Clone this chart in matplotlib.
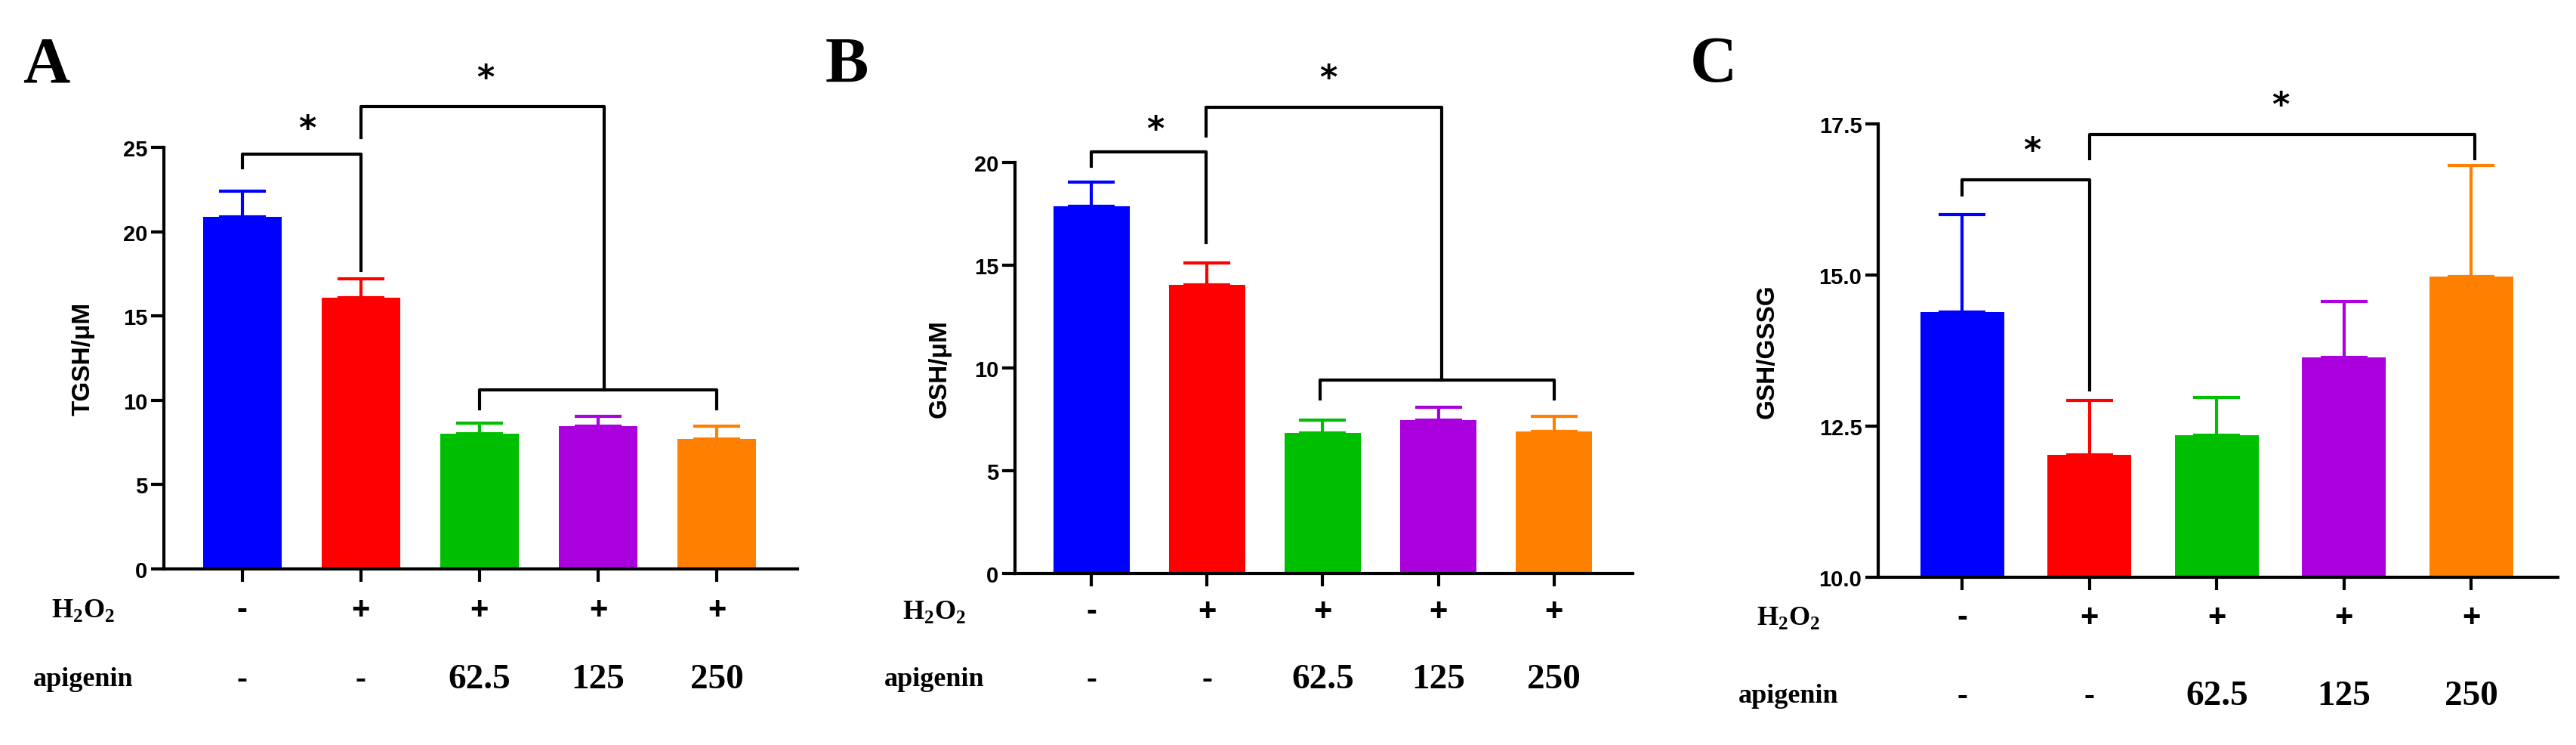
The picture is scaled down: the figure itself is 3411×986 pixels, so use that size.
import matplotlib.pyplot as plt
from matplotlib.transforms import blended_transform_factory

W, H = 3412, 987
colors = ['#0000FF', '#FF0000', '#00BF00', '#AA00DD', '#FF8000']
groups = [0, 1, 2, 3, 4]
h2o2 = ['-', '+', '+', '+', '+']
apigenin = ['-', '-', '62.5', '125', '250']

# panel values (mean, upper error)
tgsh = [20.9, 16.1, 8.0, 8.45, 7.7]
tgsh_err = [1.5, 1.1, 0.65, 0.6, 0.75]
gsh = [17.87, 14.05, 6.83, 7.45, 6.92]
gsh_err = [1.16, 1.05, 0.62, 0.65, 0.74]
ratio = [14.39, 12.02, 12.35, 13.64, 14.98]
ratio_err = [1.61, 0.91, 0.63, 0.92, 1.83]

serif = 'Liberation Serif'
sans = 'Liberation Sans'

fig = plt.figure(figsize=(W / 100, H / 100), dpi=100)


def px_axes(x0, x1, ytop, ybot):
    return fig.add_axes([x0 / W, 1 - ybot / H, (x1 - x0) / W, (ybot - ytop) / H])


def bracket(ax, x1, x2, y, l1, l2, lw=3):
    ax.plot([x1, x1, x2, x2], [l1, y, y, l2], color='black', lw=lw, clip_on=False)


def panel(ax, vals, errs, ylim, yticks, ylabel, ticklabels, letter, letter_x, lab_x, ylab_x, rows_y):
    ax.bar(groups, vals, width=0.66, color=colors)
    for g, v, e, c in zip(groups, vals, errs, colors):
        ax.errorbar(g, v, yerr=[[0], [e]], color=c, capsize=22, capthick=3, elinewidth=3)
    ax.set_xlim(-0.66, 4.68)
    ax.set_ylim(*ylim)
    ax.set_yticks(yticks)
    ax.set_yticklabels(ticklabels, fontfamily=sans, fontweight='bold', fontsize=21)
    ax.set_xticks(groups)
    ax.set_xticklabels([])
    ax.tick_params(width=3, length=12)
    for s in ['top', 'right']:
        ax.spines[s].set_visible(False)
    for s in ['left', 'bottom']:
        ax.spines[s].set_linewidth(3)
    ax.set_ylabel(ylabel, fontfamily=sans, fontweight='bold', fontsize=24)
    ax.yaxis.set_label_coords((ylab_x - ax_left(ax)) / (ax_width(ax)), 0.5)
    tr = blended_transform_factory(ax.transData, fig.transFigure)
    for g, a, b in zip(groups, h2o2, apigenin):
        ax.text(g, 1 - rows_y[0] / H, a, transform=tr, ha='center', va='center',
                fontfamily=sans, fontweight='bold', fontsize=30)
        ax.text(g, 1 - rows_y[1] / H, b, transform=tr, ha='center', va='center',
                fontfamily=serif, fontweight='bold', fontsize=34 if b != '-' else 30)
    fig.text(lab_x / W, 1 - rows_y[0] / H, 'H$_{\\mathregular{2}}$O$_{\\mathregular{2}}$', ha='center', va='center',
             fontfamily=serif, fontweight='bold', fontsize=26)
    fig.text(lab_x / W, 1 - rows_y[1] / H, 'apigenin', ha='center', va='center',
             fontfamily=serif, fontweight='bold', fontsize=26)
    fig.text(letter_x / W, 1 - 88 / H, letter, ha='center', va='center',
             fontfamily=serif, fontweight='bold', fontsize=62)


def ax_left(ax):
    return ax.get_position().x0 * W


def ax_width(ax):
    return ax.get_position().width * W


plt.rcParams['mathtext.fontset'] = 'custom'
plt.rcParams['mathtext.rm'] = 'Liberation Serif:bold'

# A
axA = px_axes(217, 1056, 196, 754)
panel(axA, tgsh, tgsh_err, (0, 25), [0, 5, 10, 15, 20, 25], 'TGSH/μM',
      ['0', '5', '10', '15', '20', '25'], 'A', 61, 110, 126, (808, 900))
bracket(axA, 0, 1, 24.6, 23.8, 17.7)
axA.text(0.55, 26.1, '*', ha='center', va='center', fontsize=32, fontweight='bold')
bracket(axA, 1, 3.05, 27.4, 25.6, 10.6)
bracket(axA, 2, 4, 10.6, 9.5, 9.5)
axA.text(2.05, 29.1, '*', ha='center', va='center', fontsize=32, fontweight='bold')

# B
axB = px_axes(1344, 2162, 216, 760)
panel(axB, gsh, gsh_err, (0, 20), [0, 5, 10, 15, 20], 'GSH/μM',
      ['0', '5', '10', '15', '20'], 'B', 1121, 1237, 1260, (810, 900))
bracket(axB, 0, 0.99, 20.5, 19.8, 16.1)
axB.text(0.55, 21.6, '*', ha='center', va='center', fontsize=32, fontweight='bold')
bracket(axB, 0.99, 3.03, 22.7, 21.3, 9.4)
bracket(axB, 1.98, 4, 9.4, 8.5, 8.5)
axB.text(2.05, 24.1, '*', ha='center', va='center', fontsize=32, fontweight='bold')

# C
axC = px_axes(2487, 3387, 165, 765)
panel(axC, ratio, ratio_err, (10, 17.5), [10, 12.5, 15, 17.5], 'GSH/GSSG',
      ['10.0', '12.5', '15.0', '17.5'], 'C', 2269, 2368, 2356, (818, 922))
bracket(axC, 0, 1, 16.57, 16.33, 13.1)
axC.text(0.55, 17.05, '*', ha='center', va='center', fontsize=32, fontweight='bold')
bracket(axC, 1, 4.03, 17.32, 16.93, 16.93)
axC.text(2.5, 17.8, '*', ha='center', va='center', fontsize=32, fontweight='bold')

fig.savefig('out.png', dpi=100)
